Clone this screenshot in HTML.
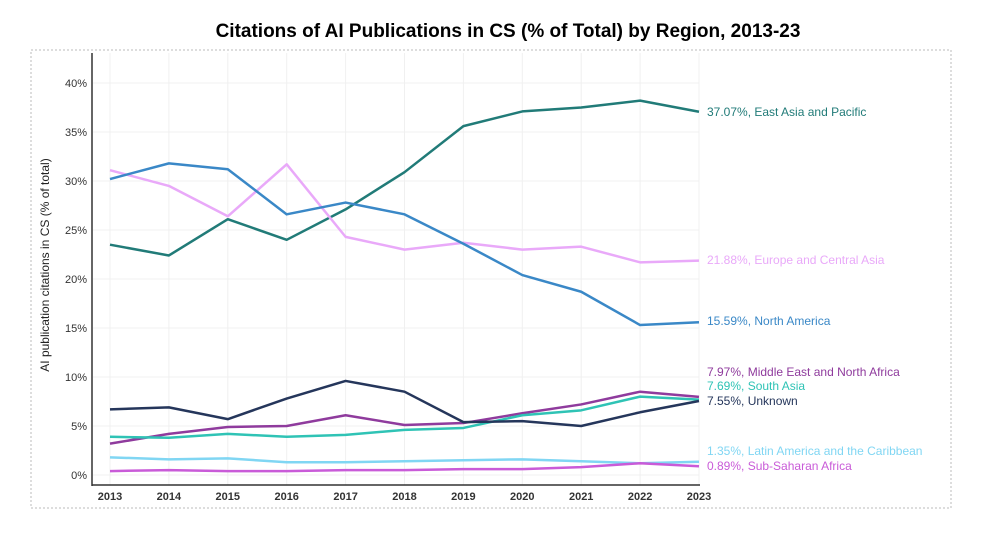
<!DOCTYPE html>
<html><head><meta charset="utf-8"><style>
html,body{margin:0;padding:0;background:#fff;}
body{width:986px;height:532px;overflow:hidden;font-family:"Liberation Sans",sans-serif;}
</style></head><body>
<svg width="986" height="532" xmlns="http://www.w3.org/2000/svg">
<text x="508" y="37" text-anchor="middle" font-size="19" font-weight="bold" fill="#000">Citations of AI Publications in CS (% of Total) by Region, 2013-23</text>
<rect x="31" y="50" width="920" height="458" fill="none" stroke="#bbb" stroke-dasharray="2,2"/>
<g id="grid"></g>
<g id="axes"></g>
<g id="series"></g>
<text transform="translate(49,265) rotate(-90)" text-anchor="middle" font-size="12" fill="#222">AI publication citations in CS (% of total)</text>
</svg>
<script>
const years=[2013,2014,2015,2016,2017,2018,2019,2020,2021,2022,2023];
const yTicks=[0,5,10,15,20,25,30,35,40];
const eastAsia=[23.5,22.4,26.1,24.0,27.1,30.9,35.6,37.1,37.5,38.2,37.07];
const northAmerica=[30.2,31.8,31.2,26.6,27.8,26.6,23.6,20.4,18.7,15.3,15.59];
const europe=[31.1,29.5,26.4,31.7,24.3,23.0,23.7,23.0,23.3,21.7,21.88];
const unknown=[6.7,6.9,5.7,7.8,9.6,8.5,5.4,5.5,5.0,6.4,7.55];
const mena=[3.2,4.2,4.9,5.0,6.1,5.1,5.3,6.3,7.2,8.5,7.97];
const southAsia=[3.9,3.8,4.2,3.9,4.1,4.6,4.8,6.1,6.6,8.0,7.69];
const latinAmerica=[1.8,1.6,1.7,1.3,1.3,1.4,1.5,1.6,1.4,1.2,1.35];
const subSaharan=[0.4,0.5,0.4,0.4,0.5,0.5,0.6,0.6,0.8,1.2,0.89];
const seriesNames=["East Asia and Pacific","Europe and Central Asia","North America","Middle East and North Africa","South Asia","Unknown","Latin America and the Caribbean","Sub-Saharan Africa"];
const seriesData=[eastAsia,europe,northAmerica,mena,southAsia,unknown,latinAmerica,subSaharan];
const colors=["#217b78","#e9a9f9","#3a88c7","#8f3b9d","#2fc3b5","#25365b","#80d6f3","#c95bd8"];
const labelY=[112,260,321,372,386,401,451,466];
const ns="http://www.w3.org/2000/svg";
const x=i=>110+i*58.9;
const y=v=>475-v*9.8;
function mk(tag,attrs,parent){const e=document.createElementNS(ns,tag);for(const k in attrs)e.setAttribute(k,attrs[k]);parent.appendChild(e);return e;}
const grid=document.getElementById('grid'),axes=document.getElementById('axes'),ser=document.getElementById('series');
years.forEach((yr,i)=>{
 const l=mk('line',{x1:x(i),x2:x(i),y1:53,y2:485,stroke:'#f0f0f0'},grid);
 
 
 const t=mk('text',{x:x(i),y:500,'text-anchor':'middle','font-size':11,'font-weight':'bold',fill:'#333'},axes);
 t.textContent=yr;
 
 
});
yTicks.forEach(v=>{
 const l=mk('line',{x1:93,x2:699,y1:y(v),y2:y(v),stroke:'#f0f0f0'},grid);
 
 
 const t=mk('text',{x:87,y:y(v)+4,'text-anchor':'end','font-size':11,fill:'#333'},axes);
 t.textContent=v+'%';
 
 
});
const ya=mk('line',{x1:92,x2:92,y1:53,y2:486,stroke:'#333','stroke-width':1.5},axes);


const xa=mk('line',{x1:92,x2:700,y1:485,y2:485,stroke:'#333','stroke-width':1.5},axes);


seriesData.forEach((d,s)=>{
 const p=mk('polyline',{points:d.map((v,i)=>x(i)+','+y(v)).join(' '),fill:'none',stroke:colors[s],'stroke-width':2.5,'stroke-linejoin':'round'},ser);
 
 
 const t=mk('text',{x:707,y:labelY[s]+4,'font-size':12,fill:colors[s]},ser);
 t.textContent=d[d.length-1].toFixed(2)+'%, '+seriesNames[s];
 
 
});
</script>
</body></html>
